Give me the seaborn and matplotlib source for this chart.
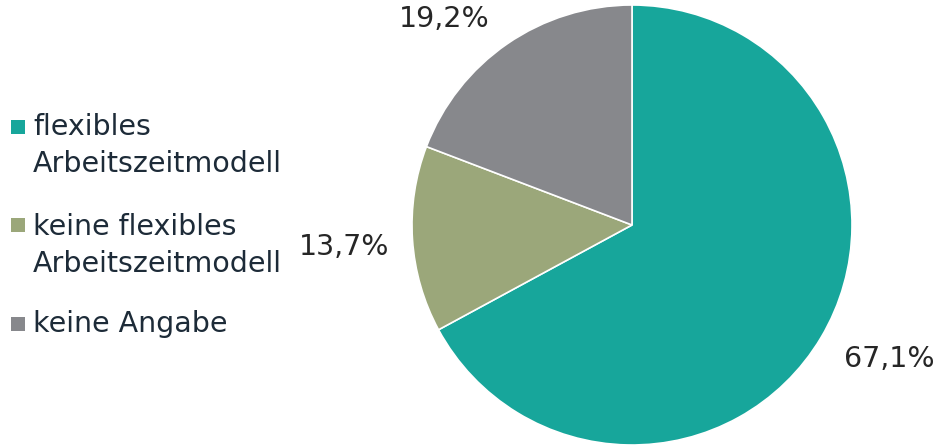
import matplotlib
matplotlib.use("Agg")
import matplotlib.pyplot as plt
from matplotlib.patches import Rectangle
import seaborn as sns

categories = ["flexibles\nArbeitszeitmodell", "keine flexibles\nArbeitszeitmodell", "keine Angabe"]
values = [67.1, 13.7, 19.2]
value_labels = ["67,1%", "13,7%", "19,2%"]
colors = ["#17A69B", "#9BA77A", "#87888C"]

sns.set_theme(style="white")
plt.rcParams['font.family'] = ['DejaVu Sans']

W, H = 940, 445
fig = plt.figure(figsize=(W / 100, H / 100), dpi=100)
cx, cy, r = 632, 225, 220
ax = fig.add_axes([(cx - r) / W, (H - cy - r) / H, 2 * r / W, 2 * r / H])
ax.pie(values, colors=colors, startangle=90, counterclock=False, radius=1,
       wedgeprops=dict(edgecolor="white", linewidth=1.2))
ax.set_xlim(-1, 1)
ax.set_ylim(-1, 1)
ax.set_aspect("equal")
ax.axis("off")

# percentage labels (data coords, radius = 1)
label_pos = [(1.168, -0.645), (-1.31, -0.136), (-0.855, 0.90)]
for (x, y), t in zip(label_pos, value_labels):
    ax.text(x, y, t, ha="center", va="baseline", fontsize=20.5, color="#262626", clip_on=False)

# legend drawn manually
txt_color = "#1d2b38"
entry_baselines = [[135, 172], [235, 272], [332]]
square_tops = [120, 218, 317]
sq = 14
for lab, col, bls, top in zip(categories, colors, entry_baselines, square_tops):
    fig.patches.append(Rectangle((11 / W, (H - top - sq) / H), sq / W, sq / H,
                                 transform=fig.transFigure, facecolor=col, edgecolor="none"))
    for line, bl in zip(lab.split("\n"), bls):
        fig.text(33 / W, (H - bl) / H, line, ha="left", va="baseline",
                 fontsize=20.5, color=txt_color)

fig.savefig("out.png", dpi=100)
